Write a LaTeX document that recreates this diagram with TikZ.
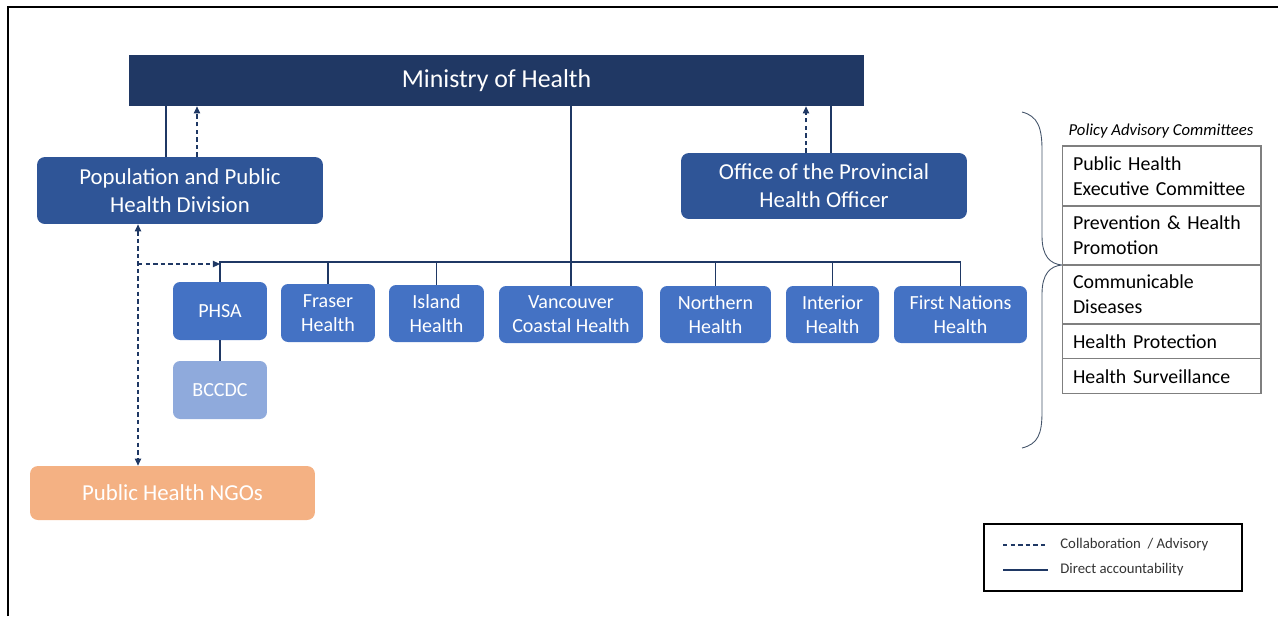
\documentclass[tikz,border=0pt]{standalone}
\usepackage{fontspec}
\setmainfont{Carlito}
\usetikzlibrary{positioning,arrows.meta}

\definecolor{ministry}{HTML}{203864}
\definecolor{division}{HTML}{2F5597}
\definecolor{authority}{HTML}{4472C4}
\definecolor{agency}{HTML}{8FAADC}
\definecolor{ngoorange}{HTML}{F4B183}
\definecolor{linknavy}{HTML}{1F3864}
\definecolor{gridgray}{HTML}{7F7F7F}
\definecolor{bracegray}{HTML}{44546A}

\begin{document}
\begin{tikzpicture}[
  x=0.02cm, y=-0.02cm,
  topbox/.style={fill=ministry, text=white, inner sep=0pt,
    minimum width=14.7cm, minimum height=1.02cm,
    font=\fontsize{14.7}{17}\selectfont},
  divbox/.style={fill=division, rounded corners=4.5pt, text=white,
    inner sep=0pt, minimum width=5.72cm, align=center,
    font=\fontsize{13}{15.9}\selectfont},
  hbox/.style={fill=authority, rounded corners=4pt, text=white,
    inner sep=0pt, minimum height=1.14cm, align=center,
    font=\fontsize{11.4}{13.6}\selectfont},
  pacrow/.style={draw=gridgray, line width=0.6pt, inner xsep=0.22cm,
    inner ysep=0pt, outer sep=0pt, text width=3.54cm, align=left,
    font=\fontsize{11.3}{14.2}\selectfont},
  acc/.style={draw=linknavy, line width=0.6pt},
  collab/.style={acc, dash pattern=on 2.5pt off 1.8pt},
  lgd/.style={font=\fontsize{8.4}{10}\selectfont, text=black!80,
    anchor=west, inner sep=0pt},
  >={Triangle[length=4pt,width=3.6pt]}
]
\useasboundingbox (0,0) rectangle (1278,616);
\draw[line width=1pt] (8,616) -- (8,7) -- (1278,7);

% ---- Ministry and its two offices ----
\node[topbox] (mini) at (496.5,80.5) {\raisebox{-1.5pt}{Ministry of Health}};

\node[divbox, minimum height=1.34cm] (popdiv) at (180,190.5)
  {Population and Public\\Health Division};
\node[divbox, minimum height=1.32cm] (opho) at (824,186)
  {Office of the Provincial\\Health Officer};

\draw[acc] ([xshift=-0.28cm]popdiv.north)
  -- ([xshift=-0.28cm]popdiv.north |- mini.south);
\draw[collab,->] ([xshift=0.34cm]popdiv.north)
  -- ([xshift=0.34cm]popdiv.north |- mini.south);
\draw[collab,->] ([xshift=-0.36cm]opho.north)
  -- ([xshift=-0.36cm]opho.north |- mini.south);
\draw[acc] ([xshift=0.14cm]opho.north)
  -- ([xshift=0.14cm]opho.north |- mini.south);

% ---- Health authorities ----
\node[hbox, minimum width=1.88cm, minimum height=1.16cm] (phsa) at (220,311) {PHSA};
\node[hbox, minimum width=1.88cm, minimum height=1.16cm] (fraser) at (328,313)
  {Fraser\\Health};
\node[hbox, minimum width=1.9cm] (island) at (436.5,313.5) {Island\\Health};
\node[hbox, minimum width=2.88cm] (vch) at (571,314.5)
  {Vancouver\\Coastal Health};
\node[hbox, minimum width=2.22cm] (northern) at (715.5,314.5)
  {Northern\\Health};
\node[hbox, minimum width=1.86cm] (interior) at (832.5,314.5)
  {Interior\\Health};
\node[hbox, minimum width=2.66cm] (fnh) at (960.5,314.5)
  {First Nations\\Health};

\node[hbox, fill=agency, minimum width=1.88cm, minimum height=1.16cm]
  (bccdc) at (220,390) {BCCDC};

\coordinate (bus) at (0,262);
\draw[acc] (mini.south -| vch.north) -- (vch.north);
\draw[acc] (phsa.north) -- (phsa.north |- bus) -- (fnh.north |- bus)
  -- (fnh.north);
\foreach \ha in {fraser,island,northern,interior}
  \draw[acc] (\ha.north) -- (\ha.north |- bus);
\draw[acc] (phsa.south) -- (bccdc.north);

% ---- NGOs ----
\node[divbox, fill=ngoorange, minimum width=5.7cm, minimum height=1.08cm]
  (ngo) at (172.5,493) {Public Health NGOs};

\coordinate (fork) at (138,264);
\draw[collab,<->] ([xshift=-0.84cm]popdiv.south)
  -- ([xshift=-0.84cm]popdiv.south |- ngo.north);
\draw[collab,->] (fork) -- (phsa.north |- fork);

% ---- Policy advisory committees ----
\draw[bracegray, line width=0.5pt] (1022,112)
  .. controls (1038,116) and (1042,128) .. (1042,150) -- (1042,236)
  .. controls (1042,256) and (1050,264) .. (1062,265)
  .. controls (1050,266) and (1042,274) .. (1042,294) -- (1042,412)
  .. controls (1042,434) and (1038,444) .. (1022,448);

\node[font=\fontsize{9.5}{11}\selectfont\itshape] (pac) at (1161,131)
  {Policy Advisory Committees};
\node[pacrow, minimum height=1.2cm] (r1) at (1161.5,176)
  {Public Health\\Executive Committee};
\node[pacrow, minimum height=1.18cm, below=0pt of r1] (r2)
  {Prevention \& Health\\Promotion};
\node[pacrow, minimum height=1.18cm, below=0pt of r2] (r3)
  {Communicable\\Diseases};
\node[pacrow, minimum height=0.7cm, below=0pt of r3] (r4)
  {Health Protection};
\node[pacrow, minimum height=0.7cm, below=0pt of r4] (r5)
  {Health Surveillance};

% ---- Legend ----
\node[draw, line width=0.8pt, minimum width=5.16cm, minimum height=1.34cm]
  (legend) at (1113,557.5) {};
\coordinate (ka) at (1003,545);
\coordinate (kb) at (1048,545);
\coordinate (kc) at (1003,570);
\coordinate (kd) at (1048,570);
\draw[collab] (ka) -- (kb);
\draw[acc] (kc) -- (kd);
\node[lgd] (lgdcollab) at (1060,545) {Collaboration \ / Advisory};
\node[lgd] (lgdacc) at (1060,570) {Direct accountability};
\end{tikzpicture}
\end{document}
